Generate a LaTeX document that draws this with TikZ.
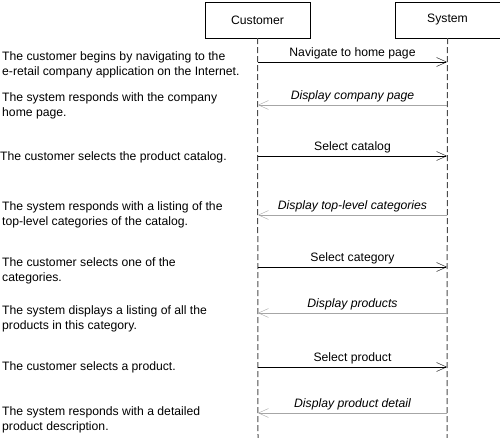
\documentclass[tikz,border=0pt]{standalone}
\usepackage{fontspec}
\setmainfont{Liberation Sans}
\usetikzlibrary{arrows.meta}
\tikzset{
  actor/.style={draw, thin, minimum width=105pt, minimum height=36pt, inner sep=0pt, font=\fontsize{12.2}{14.5}\selectfont},
  lifeline/.style={line width=1pt, black!70, dash pattern=on 6pt off 3pt},
  call/.style={thin, -{Straight Barb[length=10pt,width=9pt]}},
  reply/.style={thin, black!35, -{Straight Barb[length=10pt,width=9pt]}},
  msg/.style={above, inner sep=2.5pt, text=black, font=\fontsize{12.2}{14.5}\selectfont},
  note/.style={anchor=west, align=left, inner sep=0pt, font=\fontsize{12.2}{15}\selectfont}
}
\begin{document}
\begin{tikzpicture}[x=1pt,y=-1pt]
\useasboundingbox (0,0) rectangle (500,438);
\node[actor] (cust) at (257.5,20) {Customer};
\node[actor] (sys) at (447.5,20) {System};
\coordinate (custend) at (258,438);
\coordinate (sysend) at (447,438);
\draw[lifeline] (cust.south) -- (custend);
\draw[lifeline] (sys.south) -- (sysend);
% messages
\coordinate (c1) at (258,62);  \coordinate (s1) at (447,62);
\coordinate (c2) at (258,105); \coordinate (s2) at (447,105);
\coordinate (c3) at (258,156); \coordinate (s3) at (447,156);
\coordinate (c4) at (258,215); \coordinate (s4) at (447,215);
\coordinate (c5) at (258,267); \coordinate (s5) at (447,267);
\coordinate (c6) at (258,313); \coordinate (s6) at (447,313);
\coordinate (c7) at (258,367); \coordinate (s7) at (447,367);
\coordinate (c8) at (258,413); \coordinate (s8) at (447,413);
\draw[call] (c1) -- node[msg] {Navigate to home page} (s1);
\draw[reply] (s2) -- node[msg] {\itshape Display company page} (c2);
\draw[call] (c3) -- node[msg] {Select catalog} (s3);
\draw[reply] (s4) -- node[msg] {\itshape Display top-level categories} (c4);
\draw[call] (c5) -- node[msg] {Select category} (s5);
\draw[reply] (s6) -- node[msg] {\itshape Display products} (c6);
\draw[call] (c7) -- node[msg] {Select product} (s7);
\draw[reply] (s8) -- node[msg] {\itshape Display product detail} (c8);
% notes
\node[note] (n1) at (2,64.5) {The customer begins by navigating to the\\e-retail company application on the Internet.};
\node[note] (n2) at (2,105.5) {The system responds with the company\\home page.};
\node[note] (n3) at (0,157) {The customer selects the product catalog.};
\node[note] (n4) at (2,214.5) {The system responds with a listing of the\\top-level categories of the catalog.};
\node[note] (n5) at (2,270.5) {The customer selects one of the\\categories.};
\node[note] (n6) at (2,319) {The system displays a listing of all the\\products in this category.};
\node[note] (n7) at (2,367) {The customer selects a product.};
\node[note] (n8) at (2,419.5) {The system responds with a detailed\\product description.};
\end{tikzpicture}
\end{document}
